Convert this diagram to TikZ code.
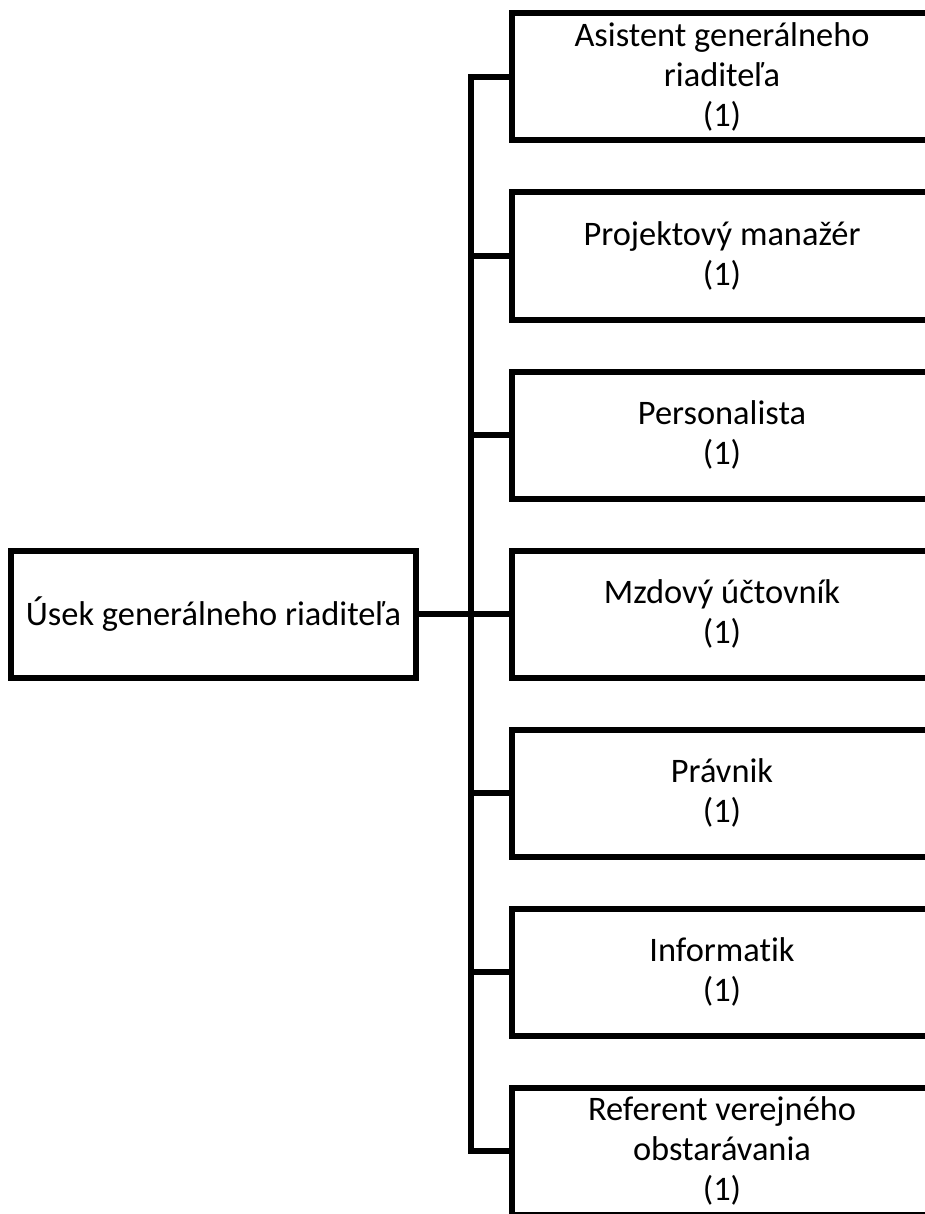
\documentclass[tikz,border=0pt]{standalone}
\usepackage{fontspec}
\setmainfont{Carlito}[RawFeature={-liga}]
\begin{document}
\begin{tikzpicture}[x=1pt,y=-1pt,
  box/.style={draw=black, line width=6pt, rectangle, align=center, inner sep=0pt,
    minimum width=420pt, minimum height=127pt, font=\fontsize{34.4}{40}\selectfont},
  rootbox/.style={box, minimum width=405pt},
  conn/.style={draw=black, line width=6pt}]
\useasboundingbox (0,0) rectangle (924,1214);
\node[rootbox] (root) at (213.5,614) {Úsek generálneho riaditeľa};
\node[box] (b1) at (722,77) {Asistent generálneho\\riaditeľa\\(1)};
\node[box] (b2) at (722,256) {Projektový manažér\\(1)};
\node[box] (b3) at (722,435) {Personalista\\(1)};
\node[box] (b4) at (722,614) {Mzdový účtovník\\(1)};
\node[box] (b5) at (722,793) {Právnik\\(1)};
\node[box] (b6) at (722,972) {Informatik\\(1)};
\node[box] (b7) at (722,1151) {Referent verejného\\obstarávania\\(1)};
\coordinate (t1) at (471,77);
\coordinate (t2) at (471,256);
\coordinate (t3) at (471,435);
\coordinate (t5) at (471,793);
\coordinate (t6) at (471,972);
\coordinate (t7) at (471,1151);
\draw[conn] (b1.west) -- (t1) -- (t7) -- (b7.west);
\draw[conn] (t2) -- (b2.west);
\draw[conn] (t3) -- (b3.west);
\draw[conn] (root.east) -- (b4.west);
\draw[conn] (t5) -- (b5.west);
\draw[conn] (t6) -- (b6.west);
\end{tikzpicture}
\end{document}
